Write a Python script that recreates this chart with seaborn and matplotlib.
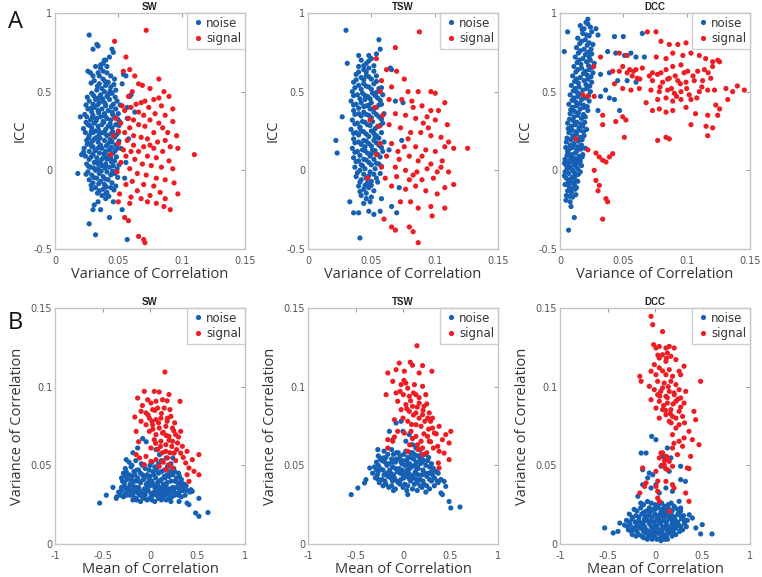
import matplotlib
matplotlib.use("Agg")
import matplotlib.pyplot as plt
import seaborn as sns
import pandas as pd

# ---------------- data ----------------
titles = ["SW", "TSW", "DCC"]
groups = ["noise", "signal"]

a_sw_noise = [
    (0.027,0.86),(0.033,0.80),(0.034,0.79),(0.030,0.77),(0.045,0.77),(0.046,0.75),(0.043,0.72),(0.040,0.70),
    (0.038,0.68),(0.036,0.67),(0.032,0.66),(0.028,0.62),(0.026,0.63),(0.030,0.60),(0.034,0.62),(0.041,0.66),
    (0.044,0.60),(0.047,0.58),(0.054,0.61),(0.056,0.60),(0.053,0.55),(0.060,0.48),(0.059,0.47),(0.063,0.37),
    (0.057,0.33),(0.020,0.34),(0.021,0.10),(0.018,-0.02),(0.027,-0.34),(0.032,-0.41),(0.036,-0.25),(0.030,-0.25),
    (0.031,-0.22),(0.034,-0.20),(0.043,-0.30),(0.053,-0.25),(0.057,-0.44),(0.046,-0.20),(0.040,-0.15),(0.055,-0.05),
    (0.056,0.05),(0.052,0.14),(0.058,0.20),(0.057,0.40),
    (0.031,0.57),(0.035,0.55),(0.038,0.58),(0.040,0.54),(0.042,0.56),(0.037,0.52),(0.044,0.53),
    (0.029,0.49),(0.033,0.51),(0.036,0.48),(0.039,0.50),(0.041,0.47),(0.045,0.49),(0.048,0.51),(0.034,0.46),
    (0.027,0.44),(0.030,0.42),(0.032,0.45),(0.035,0.43),(0.038,0.44),(0.040,0.41),(0.043,0.45),(0.046,0.42),(0.049,0.44),
    (0.026,0.39),(0.029,0.37),(0.031,0.40),(0.034,0.38),(0.037,0.39),(0.039,0.36),(0.042,0.38),(0.045,0.37),(0.048,0.39),(0.050,0.36),
    (0.025,0.34),(0.028,0.32),(0.030,0.35),(0.033,0.33),(0.036,0.34),(0.038,0.31),(0.041,0.33),(0.044,0.32),(0.047,0.34),(0.051,0.31),
    (0.026,0.29),(0.029,0.27),(0.031,0.30),(0.034,0.28),(0.037,0.29),(0.040,0.26),(0.042,0.28),(0.045,0.27),(0.048,0.29),(0.032,0.25),
    (0.024,0.24),(0.027,0.22),(0.030,0.24),(0.033,0.21),(0.035,0.23),(0.038,0.24),(0.041,0.22),(0.044,0.23),(0.047,0.21),(0.050,0.24),
    (0.025,0.19),(0.028,0.17),(0.031,0.20),(0.034,0.18),(0.036,0.16),(0.039,0.19),(0.042,0.17),(0.045,0.18),(0.048,0.16),(0.030,0.15),
    (0.023,0.14),(0.027,0.12),(0.029,0.15),(0.032,0.13),(0.035,0.11),(0.037,0.14),(0.040,0.12),(0.043,0.13),(0.046,0.11),(0.049,0.14),
    (0.024,0.09),(0.027,0.07),(0.030,0.10),(0.033,0.08),(0.036,0.06),(0.039,0.09),(0.041,0.07),(0.044,0.08),(0.047,0.06),(0.034,0.04),
    (0.025,0.04),(0.028,0.02),(0.031,0.05),(0.034,0.01),(0.037,0.03),(0.040,0.04),(0.043,0.02),(0.046,0.03),(0.049,0.01),
    (0.026,-0.01),(0.029,-0.03),(0.032,0.00),(0.035,-0.02),(0.038,-0.04),(0.041,-0.01),(0.044,-0.03),(0.047,-0.02),
    (0.027,-0.06),(0.030,-0.08),(0.033,-0.05),(0.036,-0.07),(0.039,-0.09),(0.042,-0.06),(0.045,-0.08),(0.048,-0.10),
    (0.029,-0.12),(0.032,-0.11),(0.035,-0.13),(0.038,-0.12),(0.041,-0.14),(0.044,-0.11),(0.037,-0.16),(0.040,-0.18),
    (0.035,0.60),(0.038,0.63),(0.041,0.62),(0.036,0.65),(0.039,0.70),
    (0.0285,0.555),(0.0335,0.535),(0.0395,0.565),(0.0435,0.505),(0.0465,0.545),
    (0.0255,0.465),(0.0305,0.475),(0.0375,0.455),(0.0425,0.485),(0.0475,0.465),
    (0.0245,0.415),(0.0285,0.395),(0.0335,0.415),(0.0395,0.425),(0.0445,0.405),(0.0515,0.415),
    (0.0235,0.355),(0.0295,0.335),(0.0345,0.365),(0.0395,0.345),(0.0455,0.355),(0.0495,0.325),
    (0.0245,0.305),(0.0275,0.285),(0.0325,0.315),(0.0385,0.305),(0.0435,0.295),(0.0505,0.285),
    (0.0225,0.265),(0.0285,0.245),(0.0345,0.255),(0.0395,0.235),(0.0455,0.245),(0.0485,0.225),
    (0.0265,0.205),(0.0295,0.185),(0.0355,0.205),(0.0405,0.155),(0.0435,0.195),(0.0505,0.185),
    (0.0255,0.165),(0.0315,0.125),(0.0345,0.145),(0.0385,0.105),(0.0445,0.145),(0.0475,0.125),
    (0.0225,0.115),(0.0285,0.085),(0.0325,0.055),(0.0375,0.075),(0.0425,0.095),(0.0485,0.085),
    (0.0265,0.025),(0.0305,0.015),(0.0355,0.045),(0.0395,0.015),(0.0445,0.055),(0.0505,0.035),
    (0.0245,-0.025),(0.0305,-0.045),(0.0365,-0.005),(0.0395,-0.055),(0.0455,-0.005),(0.0495,-0.045),
    (0.0285,-0.095),(0.0345,-0.085),(0.0405,-0.105),(0.0465,-0.125),(0.0335,-0.145),(0.0425,-0.165),
]
a_sw_signal = [
    (0.072,0.89),(0.047,0.82),(0.056,0.72),(0.059,0.64),(0.054,0.63),(0.063,0.60),(0.082,0.58),(0.066,0.55),
    (0.069,0.54),(0.075,0.52),(0.086,0.50),(0.061,0.50),(0.058,0.47),(0.082,0.46),(0.090,0.47),(0.078,0.45),
    (0.071,0.44),(0.068,0.43),(0.064,0.42),(0.053,0.41),(0.060,0.40),(0.074,0.40),(0.084,0.41),(0.093,0.39),
    (0.055,0.38),(0.066,0.37),(0.070,0.35),(0.079,0.36),(0.087,0.35),(0.048,0.33),(0.058,0.33),(0.062,0.32),
    (0.075,0.32),(0.082,0.30),(0.093,0.31),(0.052,0.30),(0.066,0.29),(0.071,0.28),(0.059,0.27),(0.085,0.27),
    (0.050,0.25),(0.055,0.24),(0.062,0.22),(0.078,0.24),(0.089,0.24),(0.096,0.22),(0.046,0.22),(0.068,0.21),
    (0.073,0.20),(0.057,0.19),(0.081,0.18),(0.087,0.19),(0.050,0.17),(0.062,0.16),(0.075,0.16),(0.070,0.15),
    (0.078,0.14),(0.091,0.15),(0.097,0.14),(0.054,0.13),(0.060,0.12),(0.066,0.12),(0.085,0.12),(0.044,0.10),
    (0.110,0.10),(0.056,0.09),(0.073,0.09),(0.080,0.08),(0.063,0.07),(0.090,0.06),(0.052,0.05),(0.069,0.04),
    (0.076,0.03),(0.084,0.02),(0.059,0.01),(0.093,0.01),(0.049,-0.01),(0.065,-0.02),(0.072,-0.03),(0.080,-0.05),
    (0.087,-0.06),(0.061,-0.07),(0.056,-0.09),(0.070,-0.09),(0.078,-0.10),(0.094,-0.08),(0.065,-0.13),(0.051,-0.15),
    (0.075,-0.16),(0.083,-0.14),(0.097,-0.15),(0.060,-0.17),(0.068,-0.18),(0.087,-0.18),(0.050,-0.20),(0.073,-0.20),
    (0.080,-0.21),(0.059,-0.21),(0.086,-0.23),(0.091,-0.25),(0.055,-0.30),(0.058,-0.32),(0.066,-0.42),(0.070,-0.44),
    (0.071,-0.46),
]

a_tsw_noise = [
    (0.030,0.89),(0.056,0.83),(0.057,0.77),(0.054,0.74),(0.031,0.68),(0.040,0.73),(0.048,0.73),(0.065,0.65),
    (0.066,0.64),(0.022,0.19),(0.023,0.11),(0.027,0.34),(0.041,-0.43),(0.033,-0.20),(0.036,-0.27),(0.040,-0.27),
    (0.048,-0.26),(0.052,-0.28),(0.057,-0.26),(0.066,-0.23),(0.070,-0.27),(0.069,0.44),(0.075,0.43),(0.074,0.19),
    (0.064,0.13),(0.072,-0.11),(0.058,-0.18),
    (0.042,0.70),(0.046,0.68),(0.050,0.71),(0.040,0.66),(0.044,0.64),(0.048,0.65),(0.052,0.63),(0.038,0.61),
    (0.042,0.59),(0.046,0.60),(0.050,0.58),(0.054,0.60),(0.036,0.56),(0.040,0.54),(0.044,0.55),(0.048,0.53),
    (0.052,0.55),(0.056,0.52),(0.035,0.50),(0.039,0.48),(0.043,0.49),(0.047,0.47),(0.051,0.49),(0.055,0.46),
    (0.059,0.48),(0.034,0.44),(0.038,0.42),(0.042,0.43),(0.046,0.41),(0.050,0.43),(0.054,0.40),(0.058,0.42),
    (0.036,0.38),(0.040,0.36),(0.044,0.37),(0.048,0.35),(0.052,0.37),(0.056,0.34),(0.060,0.36),(0.035,0.32),
    (0.039,0.30),(0.043,0.31),(0.047,0.29),(0.051,0.31),(0.055,0.28),(0.059,0.30),(0.034,0.26),(0.038,0.24),
    (0.042,0.25),(0.046,0.23),(0.050,0.25),(0.054,0.22),(0.058,0.24),(0.036,0.20),(0.040,0.18),(0.044,0.19),
    (0.048,0.17),(0.052,0.19),(0.056,0.16),(0.060,0.18),(0.035,0.14),(0.039,0.12),(0.043,0.13),(0.047,0.11),
    (0.051,0.13),(0.055,0.10),(0.059,0.12),(0.036,0.08),(0.040,0.06),(0.044,0.07),(0.048,0.05),(0.052,0.07),
    (0.056,0.04),(0.037,0.02),(0.041,0.00),(0.045,0.01),(0.049,-0.01),(0.053,0.01),(0.057,-0.02),(0.038,-0.04),
    (0.042,-0.06),(0.046,-0.05),(0.050,-0.07),(0.054,-0.05),(0.040,-0.10),(0.044,-0.12),(0.048,-0.11),(0.052,-0.13),
    (0.042,-0.16),(0.046,-0.18),(0.050,-0.17),(0.044,-0.21),(0.049,-0.20),
    (0.045,0.45),(0.049,0.39),(0.041,0.27),(0.053,0.21),(0.045,0.15),(0.049,0.09),(0.043,0.03),(0.047,-0.08),
    (0.044,0.665),(0.048,0.695),(0.040,0.625),(0.046,0.625),(0.052,0.665),
    (0.038,0.575),(0.044,0.575),(0.048,0.595),(0.054,0.565),
    (0.037,0.525),(0.042,0.515),(0.046,0.535),(0.050,0.515),(0.054,0.495),(0.058,0.525),
    (0.036,0.475),(0.041,0.455),(0.045,0.475),(0.049,0.455),(0.053,0.475),(0.057,0.445),
    (0.036,0.415),(0.040,0.395),(0.044,0.405),(0.048,0.415),(0.052,0.395),(0.056,0.415),
    (0.037,0.355),(0.042,0.345),(0.046,0.355),(0.050,0.335),(0.054,0.355),(0.058,0.325),
    (0.037,0.295),(0.041,0.275),(0.045,0.305),(0.049,0.285),(0.053,0.265),(0.057,0.285),
    (0.036,0.235),(0.040,0.225),(0.044,0.245),(0.048,0.215),(0.052,0.235),(0.056,0.205),
    (0.037,0.175),(0.042,0.165),(0.046,0.185),(0.050,0.155),(0.054,0.175),(0.058,0.145),
    (0.037,0.115),(0.041,0.095),(0.045,0.125),(0.050,0.105),(0.053,0.125),(0.057,0.085),
    (0.038,0.055),(0.042,0.035),(0.046,0.065),(0.050,0.035),(0.054,0.045),(0.058,0.025),
    (0.039,-0.015),(0.044,-0.025),(0.048,-0.035),(0.052,-0.025),(0.055,-0.075),
    (0.041,-0.075),(0.045,-0.095),(0.050,-0.095),(0.046,-0.145),(0.041,-0.135),
]
a_tsw_signal = [
    (0.088,0.88),(0.069,0.78),(0.054,0.71),(0.062,0.64),(0.070,0.63),(0.058,0.57),(0.076,0.58),(0.066,0.53),
    (0.079,0.50),(0.087,0.50),(0.097,0.50),(0.1005,0.49),(0.108,0.43),(0.057,0.50),(0.064,0.45),(0.074,0.45),
    (0.082,0.44),(0.090,0.41),(0.097,0.38),(0.103,0.38),(0.053,0.40),(0.059,0.35),(0.069,0.36),(0.077,0.35),
    (0.085,0.33),(0.094,0.34),(0.1005,0.32),(0.110,0.29),(0.049,0.32),(0.056,0.28),(0.064,0.29),(0.073,0.27),
    (0.081,0.24),(0.089,0.24),(0.097,0.22),(0.105,0.21),(0.111,0.18),(0.115,0.14),(0.126,0.14),(0.057,0.17),
    (0.066,0.17),(0.076,0.15),(0.085,0.15),(0.093,0.13),(0.1005,0.12),(0.108,0.15),(0.054,0.10),(0.062,0.09),
    (0.072,0.07),(0.080,0.09),(0.087,0.06),(0.097,0.04),(0.106,0.06),(0.058,0.02),(0.069,0.02),(0.077,0.00),
    (0.086,-0.01),(0.094,0.01),(0.102,-0.01),(0.111,-0.01),(0.061,-0.05),(0.070,-0.04),(0.080,-0.06),(0.090,-0.06),
    (0.099,-0.05),(0.115,-0.09),(0.047,-0.05),(0.066,-0.10),(0.077,-0.12),(0.085,-0.10),(0.093,-0.13),(0.102,-0.15),
    (0.108,-0.11),(0.073,-0.20),(0.081,-0.20),(0.087,-0.24),(0.097,-0.23),(0.108,-0.24),(0.098,-0.29),(0.060,-0.31),
    (0.066,-0.36),(0.069,-0.38),(0.080,-0.36),(0.083,-0.39),(0.087,-0.46),
    (0.083,0.40),(0.091,0.30),(0.079,0.20),(0.095,0.27),(0.071,0.12),(0.090,0.09),(0.083,-0.03),(0.105,0.02),
]

a_dcc_noise = [
    (0.0284,0.90),(0.030,0.86),(0.022,0.96),(0.0205,0.94),(0.006,0.88),(0.0034,0.755),(0.0068,-0.38),(0.0113,-0.30),
    (0.0087,-0.23),(0.0047,-0.19),(0.043,0.85),(0.050,0.85),(0.065,0.87),(0.0376,0.755),(0.044,0.745),(0.051,0.73),
    (0.056,0.745),(0.060,0.72),(0.0666,0.72),(0.039,0.62),(0.032,0.61),(0.0455,0.57),(0.053,0.57),(0.060,0.56),
    (0.036,0.51),(0.039,0.46),(0.043,0.45),(0.047,0.38),(0.030,0.38),(0.032,0.47),
    (0.016,0.92),(0.019,0.90),(0.022,0.93),(0.024,0.91),(0.018,0.87),(0.021,0.86),(0.025,0.88),(0.014,0.84),
    (0.017,0.82),(0.020,0.83),(0.023,0.81),(0.026,0.80),(0.013,0.78),(0.016,0.76),(0.019,0.77),(0.022,0.75),
    (0.025,0.74),(0.012,0.72),(0.015,0.70),(0.018,0.71),(0.021,0.69),(0.024,0.70),(0.027,0.68),(0.011,0.66),
    (0.014,0.64),(0.017,0.65),(0.020,0.63),(0.023,0.64),(0.026,0.62),(0.010,0.60),(0.013,0.58),(0.016,0.59),
    (0.019,0.57),(0.022,0.58),(0.025,0.56),(0.009,0.54),(0.012,0.52),(0.015,0.53),(0.018,0.51),(0.021,0.52),
    (0.024,0.50),(0.008,0.48),(0.011,0.46),(0.014,0.47),(0.017,0.45),(0.020,0.46),(0.023,0.44),(0.007,0.42),
    (0.010,0.40),(0.013,0.41),(0.016,0.39),(0.019,0.40),(0.022,0.38),(0.008,0.36),(0.011,0.34),(0.014,0.35),
    (0.017,0.33),(0.020,0.34),(0.006,0.30),(0.009,0.28),(0.012,0.29),(0.015,0.27),(0.018,0.28),(0.021,0.26),
    (0.007,0.24),(0.010,0.22),(0.013,0.23),(0.016,0.21),(0.019,0.22),(0.005,0.18),(0.008,0.16),(0.011,0.17),
    (0.014,0.15),(0.017,0.16),(0.020,0.14),(0.006,0.12),(0.009,0.10),(0.012,0.11),(0.015,0.09),(0.018,0.10),
    (0.004,0.07),(0.007,0.06),(0.010,0.08),(0.013,0.05),(0.016,0.06),(0.005,0.03),(0.008,0.02),(0.011,0.04),
    (0.014,0.01),(0.017,0.03),(0.004,-0.01),(0.007,-0.02),(0.010,0.00),(0.013,-0.03),(0.016,-0.01),(0.005,-0.05),
    (0.008,-0.06),(0.011,-0.04),(0.014,-0.07),(0.004,-0.09),(0.007,-0.10),(0.010,-0.08),(0.013,-0.11),(0.006,-0.13),
    (0.009,-0.14),(0.012,-0.12),(0.005,-0.16),(0.010,-0.17),(0.008,-0.20),
    (0.0175,0.895),(0.023,0.855),(0.0155,0.805),(0.0215,0.795),(0.0245,0.77),(0.0145,0.745),(0.020,0.735),(0.023,0.72),
    (0.0135,0.685),(0.0165,0.675),(0.0225,0.665),(0.0255,0.655),(0.0125,0.625),(0.0185,0.615),(0.0215,0.605),(0.0245,0.595),
    (0.0115,0.565),(0.0145,0.555),(0.0205,0.545),(0.0235,0.535),(0.0105,0.505),(0.0135,0.495),(0.0165,0.485),(0.0225,0.475),
    (0.0095,0.445),(0.0125,0.435),(0.0155,0.425),(0.0185,0.415),(0.0215,0.405),(0.0085,0.385),(0.0115,0.375),(0.0145,0.365),
    (0.0185,0.355),(0.0075,0.325),(0.0105,0.315),(0.0135,0.305),(0.0165,0.295),(0.0195,0.305),(0.0065,0.265),(0.0095,0.255),
    (0.0125,0.245),(0.0155,0.255),(0.0185,0.245),(0.0055,0.205),(0.0085,0.195),(0.0115,0.205),(0.0145,0.185),(0.0175,0.195),
    (0.0045,0.145),(0.0075,0.135),(0.0105,0.145),(0.0135,0.125),(0.0165,0.135),(0.0055,0.095),(0.0085,0.085),(0.0115,0.075),
    (0.0145,0.075),(0.0175,0.085),(0.0035,0.045),(0.0065,0.045),(0.0095,0.055),(0.0125,0.025),(0.0155,0.045),(0.0055,0.005),
    (0.0085,0.015),(0.0115,-0.015),(0.0145,-0.025),(0.0035,-0.035),(0.0065,-0.075),(0.0095,-0.045),(0.0125,-0.065),(0.0085,-0.115),
    (0.0115,-0.095),(0.0075,-0.165),(0.0125,-0.155),
]
a_dcc_signal = [
    (0.0758,0.88),(0.069,0.88),(0.0797,0.82),(0.0863,0.80),(0.093,0.80),(0.0995,0.81),(0.1034,0.745),(0.110,0.73),
    (0.115,0.71),(0.1205,0.69),(0.1245,0.70),(0.089,0.745),(0.097,0.73),(0.076,0.72),(0.0837,0.71),(0.0468,0.745),
    (0.053,0.73),(0.0495,0.66),(0.055,0.64),(0.060,0.64),(0.065,0.65),(0.0416,0.63),(0.0468,0.63),(0.053,0.62),
    (0.061,0.585),(0.0705,0.60),(0.077,0.61),(0.0797,0.62),(0.0837,0.64),(0.089,0.66),(0.0955,0.67),(0.1008,0.63),
    (0.1087,0.63),(0.114,0.64),(0.1205,0.66),(0.126,0.69),(0.073,0.57),(0.081,0.56),(0.0863,0.585),(0.093,0.57),
    (0.0995,0.56),(0.106,0.57),(0.1126,0.57),(0.119,0.585),(0.043,0.55),(0.0495,0.52),(0.056,0.51),(0.0626,0.52),
    (0.0718,0.51),(0.0784,0.50),(0.085,0.51),(0.0903,0.49),(0.0955,0.50),(0.102,0.48),(0.110,0.50),(0.1166,0.51),
    (0.122,0.51),(0.131,0.52),(0.140,0.536),(0.1455,0.51),(0.1363,0.50),(0.1324,0.45),(0.0771,0.45),(0.0837,0.46),
    (0.089,0.44),(0.0955,0.45),(0.1034,0.45),(0.123,0.415),(0.126,0.39),(0.068,0.43),(0.073,0.38),(0.0784,0.39),
    (0.0837,0.37),(0.089,0.38),(0.0995,0.40),(0.107,0.36),(0.1166,0.35),(0.1245,0.35),(0.0495,0.34),(0.052,0.32),
    (0.044,0.31),(0.0337,0.35),(0.0337,0.29),(0.1034,0.29),(0.1153,0.28),(0.1205,0.27),(0.1166,0.22),(0.0837,0.21),
    (0.0863,0.20),(0.0771,0.19),(0.0508,0.21),(0.0284,0.11),(0.031,0.085),(0.039,0.085),(0.0416,0.106),(0.0363,0.053),
    (0.0337,0.064),(0.022,0.13),(0.027,0.0),(0.0284,-0.064),(0.031,-0.096),(0.030,-0.13),(0.0363,-0.18),(0.0376,-0.20),
    (0.0337,-0.31),(0.018,0.48),(0.022,0.47),(0.027,0.47),(0.0266,0.66),(0.0126,0.20),(0.032,0.72),
    (0.085,0.58),(0.091,0.60),(0.095,0.55),(0.105,0.60),(0.112,0.53),(0.079,0.53),(0.088,0.52),(0.098,0.62),
    (0.117,0.62),(0.073,0.62),(0.057,0.60),(0.058,0.63),(0.063,0.58),(0.100,0.52),(0.092,0.47),(0.108,0.46),
]

b_sw_noise = [
    (-0.53,0.026),(-0.46,0.031),(-0.39,0.036),(-0.355,0.029),(0.515,0.029),(0.48,0.0197),(0.515,0.0176),(0.61,0.020),
    (0.43,0.0345),(0.445,0.0335),(0.39,0.026),(0.41,0.025),(0.306,0.027),(0.323,0.0377),
    (-0.077,0.067),(-0.04,0.065),(-0.13,0.061),(-0.25,0.0536),(-0.18,0.058),(0.063,0.060),(0.10,0.0568),(0.17,0.0547),
    (0.24,0.0547),(0.185,0.049),
    (-0.22,0.052),(-0.15,0.053),(-0.09,0.051),(0.02,0.052),(0.12,0.053),(0.22,0.051),
    (-0.26,0.048),(-0.20,0.049),(-0.12,0.047),(-0.05,0.048),(0.05,0.049),(0.15,0.047),(0.25,0.048),
    (-0.28,0.045),(-0.22,0.044),(-0.17,0.046),(-0.10,0.045),(-0.03,0.044),(0.03,0.046),(0.09,0.045),(0.18,0.044),
    (0.26,0.046),(0.30,0.045),
    (-0.30,0.042),(-0.24,0.041),(-0.19,0.043),(-0.13,0.042),(-0.07,0.041),(0.00,0.043),(0.06,0.042),(0.12,0.041),
    (0.20,0.043),(0.28,0.042),(0.33,0.041),
    (-0.27,0.039),(-0.21,0.038),(-0.15,0.040),(-0.10,0.039),(-0.04,0.038),(0.02,0.040),(0.08,0.039),(0.14,0.038),
    (0.22,0.040),(0.29,0.039),(0.36,0.038),
    (-0.30,0.036),(-0.25,0.035),(-0.18,0.037),(-0.12,0.036),(-0.06,0.035),(0.00,0.037),(0.05,0.036),(0.11,0.035),
    (0.17,0.037),(0.24,0.036),(0.31,0.035),(0.38,0.037),
    (-0.33,0.033),(-0.26,0.032),(-0.20,0.034),(-0.14,0.033),(-0.08,0.032),(-0.02,0.034),(0.04,0.033),(0.10,0.032),
    (0.16,0.034),(0.22,0.033),(0.28,0.032),(0.35,0.034),(0.42,0.033),
    (-0.35,0.030),(-0.28,0.030),(-0.21,0.031),(-0.15,0.029),(-0.08,0.030),(0.00,0.029),(0.07,0.031),(0.13,0.030),
    (0.20,0.029),(0.26,0.031),(0.33,0.030),
    (-0.18,0.028),(-0.10,0.027),(-0.03,0.028),(0.05,0.027),(0.12,0.028),(0.22,0.027),
    (-0.17,0.040),(-0.01,0.041),(0.07,0.047),(0.16,0.042),(-0.08,0.044),(0.10,0.036),(-0.23,0.034),(0.19,0.032),
    (0.03,0.038),(-0.11,0.031),
    (-0.19,0.050),(-0.08,0.050),(0.00,0.050),(0.09,0.051),(0.19,0.050),
    (-0.25,0.046),(-0.14,0.047),(-0.01,0.047),(0.12,0.046),(0.21,0.046),
    (-0.26,0.043),(-0.16,0.044),(-0.05,0.043),(0.04,0.044),(0.15,0.043),(0.24,0.044),(0.31,0.043),
    (-0.29,0.040),(-0.20,0.041),(-0.12,0.040),(-0.02,0.039),(0.10,0.040),(0.18,0.039),(0.26,0.040),(0.33,0.039),
    (-0.27,0.037),(-0.22,0.036),(-0.15,0.036),(-0.03,0.036),(0.08,0.037),(0.14,0.036),(0.21,0.035),(0.28,0.036),(0.35,0.036),
    (-0.30,0.034),(-0.17,0.034),(-0.11,0.034),(-0.05,0.033),(0.01,0.032),(0.07,0.034),(0.13,0.033),(0.19,0.034),
    (0.25,0.034),(0.31,0.033),(0.39,0.034),
    (-0.31,0.031),(-0.25,0.031),(-0.18,0.031),(-0.12,0.032),(-0.05,0.031),(0.03,0.031),(0.10,0.030),(0.16,0.031),
    (0.23,0.030),(0.30,0.031),(0.37,0.031),
    (-0.14,0.028),(-0.06,0.029),(0.02,0.028),(0.09,0.029),(0.17,0.028),
]
b_sw_signal = [
    (0.157,0.1093),(-0.06,0.097),(0.045,0.097),(0.097,0.0966),(0.20,0.095),(0.317,0.0907),(-0.13,0.0928),(-0.024,0.0917),
    (0.01,0.0896),(0.063,0.0907),(0.132,0.0917),(-0.16,0.0807),(-0.094,0.0843),(-0.042,0.0833),(0.028,0.0854),(0.080,0.0864),
    (0.15,0.0864),(0.21,0.0854),(-0.007,0.080),(0.063,0.079),(0.115,0.080),(0.184,0.080),(0.22,0.0811),(-0.094,0.078),
    (-0.042,0.0758),(0.028,0.0758),(0.097,0.0737),(0.167,0.0748),(0.237,0.0737),(-0.146,0.0716),(-0.007,0.0716),(0.063,0.0695),
    (0.132,0.0705),(0.20,0.0684),(0.27,0.0695),(0.323,0.0716),(0.045,0.0663),(0.115,0.0653),(0.167,0.0631),(0.237,0.0653),
    (0.29,0.0642),(0.34,0.0621),(0.01,0.061),(0.08,0.060),(0.167,0.0589),(0.254,0.0578),(0.323,0.0578),(0.39,0.0589),
    (0.515,0.0568),(0.445,0.0536),(0.376,0.0515),(0.41,0.0483),(0.463,0.0462),(0.515,0.044),(0.39,0.044),(0.41,0.0398),
    (-0.042,0.0557),(-0.11,0.0547),(-0.146,0.0568),(0.063,0.0536),(0.132,0.0525),(0.20,0.0504),(0.167,0.0472),(0.237,0.0483),
    (-0.06,0.0504),(0.097,0.0494),(0.184,0.0547),(0.01,0.0525),
    (0.05,0.085),(0.12,0.083),(0.18,0.078),(-0.02,0.082),(0.09,0.077),(0.25,0.072),(0.14,0.071),(0.03,0.073),
    (0.20,0.066),(0.28,0.060),(0.11,0.062),(0.23,0.062),(0.30,0.068),(0.06,0.064),(0.17,0.069),(0.35,0.055),
    (0.27,0.053),(0.21,0.058),(0.13,0.058),(-0.08,0.088),(0.18,0.091),(0.26,0.077),(-0.12,0.065),(0.02,0.078),(0.14,0.052),
]

b_tsw_noise = [
    (-0.545,0.0314),(-0.475,0.0356),(-0.39,0.0409),(-0.405,0.0388),(-0.35,0.0483),(0.485,0.027),(0.503,0.0229),(0.60,0.0235),
    (0.40,0.0324),(0.415,0.0314),(0.45,0.0366),(0.433,0.0398),(0.05,0.0314),
    (-0.073,0.0769),(-0.02,0.078),(-0.143,0.0716),(0.0,0.0716),(0.066,0.0695),(-0.108,0.0663),(0.03,0.0653),(0.10,0.0631),
    (0.136,0.061),(0.19,0.0568),(-0.265,0.060),(-0.21,0.0547),
    (-0.20,0.059),(-0.12,0.060),(-0.05,0.058),(0.03,0.059),(0.10,0.058),(0.18,0.060),
    (-0.26,0.056),(-0.18,0.055),(-0.10,0.057),(-0.03,0.056),(0.05,0.055),(0.12,0.057),(0.20,0.056),(0.27,0.055),
    (-0.28,0.052),(-0.22,0.053),(-0.15,0.051),(-0.08,0.052),(0.00,0.053),(0.07,0.051),(0.14,0.052),(0.22,0.053),(0.30,0.051),
    (-0.30,0.049),(-0.24,0.048),(-0.17,0.050),(-0.11,0.049),(-0.04,0.048),(0.02,0.050),(0.09,0.049),(0.16,0.048),
    (0.24,0.050),(0.32,0.048),
    (-0.32,0.045),(-0.26,0.046),(-0.20,0.044),(-0.13,0.045),(-0.06,0.046),(0.00,0.044),(0.06,0.045),(0.13,0.046),
    (0.20,0.044),(0.27,0.045),(0.35,0.046),
    (-0.29,0.042),(-0.22,0.041),(-0.16,0.043),(-0.09,0.042),(-0.02,0.041),(0.04,0.043),(0.11,0.042),(0.18,0.041),
    (0.25,0.043),(0.33,0.042),(0.40,0.041),
    (-0.25,0.039),(-0.18,0.038),(-0.11,0.040),(-0.05,0.039),(0.02,0.038),(0.08,0.040),(0.15,0.039),(0.22,0.038),
    (0.30,0.040),(0.37,0.039),
    (-0.15,0.036),(-0.08,0.035),(0.00,0.036),(0.10,0.035),(0.20,0.036),(0.28,0.035),
    (-0.07,0.054),(0.08,0.055),(-0.14,0.047),(0.18,0.051),(0.04,0.047),(-0.01,0.051),(0.11,0.044),
    (-0.16,0.057),(-0.07,0.058),(0.01,0.057),(0.08,0.058),(0.15,0.056),(0.23,0.057),
    (-0.24,0.054),(-0.12,0.054),(-0.04,0.054),(0.04,0.053),(0.11,0.054),(0.18,0.054),(0.26,0.053),
    (-0.26,0.050),(-0.19,0.052),(-0.11,0.052),(-0.02,0.052),(0.05,0.050),(0.12,0.050),(0.20,0.052),(0.28,0.049),
    (-0.28,0.047),(-0.21,0.047),(-0.08,0.048),(-0.01,0.047),(0.07,0.048),(0.14,0.049),(0.21,0.047),(0.30,0.046),(0.37,0.045),
    (-0.27,0.044),(-0.17,0.045),(-0.10,0.044),(-0.03,0.045),(0.03,0.045),(0.09,0.043),(0.16,0.044),(0.23,0.045),(0.31,0.044),
    (-0.26,0.041),(-0.19,0.040),(-0.13,0.042),(-0.06,0.040),(0.01,0.042),(0.07,0.041),(0.14,0.041),(0.21,0.040),
    (0.28,0.041),(0.36,0.040),
    (-0.21,0.037),(-0.12,0.037),(-0.03,0.038),(0.05,0.037),(0.12,0.038),(0.18,0.037),(0.25,0.037),(0.33,0.037),
    (-0.10,0.034),(0.04,0.034),(0.15,0.034),(0.24,0.033),
]
b_tsw_signal = [
    (0.147,0.126),(-0.04,0.115),(0.077,0.1155),(0.10,0.1136),(0.206,0.1134),(0.304,0.1098),(-0.16,0.1087),(-0.073,0.1108),
    (0.014,0.1098),(0.17,0.1087),(-0.108,0.1034),(-0.02,0.1013),(0.03,0.1023),(0.12,0.1013),(0.206,0.1002),(-0.178,0.0949),
    (-0.073,0.096),(0.0035,0.0949),(0.066,0.0939),(0.136,0.0949),(0.24,0.0949),(-0.056,0.0907),(0.03,0.0886),(0.10,0.0875),
    (0.17,0.0896),(0.22,0.0875),(-0.02,0.0854),(0.066,0.0843),(0.136,0.0833),(0.206,0.0822),(0.276,0.0833),(0.29,0.078),
    (0.26,0.080),(-0.09,0.079),(0.0,0.080),(0.05,0.078),(0.136,0.0758),(0.19,0.0748),(0.31,0.0737),(0.38,0.0748),
    (0.33,0.0705),(0.503,0.0716),(0.45,0.0695),(0.415,0.0663),(0.485,0.0642),(0.365,0.0621),(0.38,0.0589),(0.433,0.0578),
    (0.485,0.0536),(0.372,0.0515),(0.38,0.0483),(-0.16,0.0663),(-0.108,0.0653),(-0.056,0.0716),(0.014,0.0705),(0.084,0.0716),
    (0.136,0.0684),(0.19,0.0653),(0.206,0.061),(0.206,0.0568),(0.153,0.0631),(-0.16,0.061),(0.05,0.0589),(0.258,0.0684),
    (0.276,0.0653),
    (0.05,0.099),(0.11,0.096),(0.17,0.093),(-0.03,0.097),(0.08,0.091),(0.15,0.087),(0.21,0.085),(0.25,0.089),
    (0.04,0.086),(0.11,0.082),(0.17,0.080),(0.23,0.078),(0.31,0.080),(0.09,0.076),(0.27,0.073),(0.35,0.070),
    (0.22,0.070),(0.10,0.067),(0.29,0.065),(0.32,0.061),(0.25,0.058),(0.07,0.063),(-0.09,0.068),(0.16,0.060),(0.01,0.104),
]

b_dcc_noise = [
    (-0.53,0.0102),(-0.44,0.007),(-0.37,0.0133),(-0.39,0.008),(0.48,0.0064),(0.60,0.0064),(0.497,0.0123),(0.43,0.0102),
    (0.393,0.0165),(0.36,0.0186),(0.27,0.0229),(0.063,0.0021),(-0.035,0.0684),(0.01,0.0663),(-0.146,0.0578),(-0.094,0.0578),
    (0.13,0.061),(0.167,0.0547),(0.08,0.0557),(0.27,0.0494),(0.32,0.0398),(0.27,0.0409),(-0.06,0.0451),(-0.024,0.044),
    (-0.077,0.042),(-0.13,0.0377),(0.01,0.0377),(-0.18,0.0303),(0.115,0.0356),(0.184,0.0335),(0.254,0.0271),(0.045,0.0324),
    (0.15,0.0462),(0.063,0.0494),(-0.13,0.0472),(-0.042,0.0356),
    (-0.15,0.026),(-0.08,0.027),(0.00,0.025),(0.07,0.026),(0.14,0.025),(0.20,0.024),
    (-0.22,0.022),(-0.15,0.023),(-0.09,0.021),(-0.03,0.022),(0.03,0.023),(0.09,0.021),(0.15,0.022),(0.21,0.023),(0.27,0.021),
    (-0.27,0.019),(-0.20,0.018),(-0.14,0.019),(-0.07,0.018),(0.00,0.019),(0.06,0.018),(0.12,0.019),(0.18,0.018),
    (0.24,0.019),(0.30,0.018),
    (-0.30,0.015),(-0.24,0.016),(-0.17,0.015),(-0.11,0.016),(-0.04,0.015),(0.02,0.016),(0.09,0.015),(0.15,0.016),
    (0.21,0.015),(0.28,0.016),(0.34,0.015),
    (-0.32,0.012),(-0.26,0.012),(-0.19,0.013),(-0.13,0.012),(-0.06,0.013),(0.00,0.012),(0.06,0.013),(0.12,0.012),
    (0.18,0.013),(0.25,0.012),(0.31,0.013),
    (-0.28,0.009),(-0.22,0.009),(-0.15,0.010),(-0.09,0.009),(-0.02,0.010),(0.04,0.009),(0.10,0.010),(0.16,0.009),
    (0.22,0.010),(0.29,0.009),
    (-0.24,0.006),(-0.17,0.006),(-0.10,0.007),(-0.04,0.006),(0.03,0.007),(0.09,0.006),(0.15,0.007),(0.22,0.006),
    (-0.12,0.004),(-0.03,0.003),(0.06,0.004),(0.13,0.003),
    (-0.05,0.020),(0.04,0.014),(-0.12,0.014),(0.10,0.017),(-0.01,0.008),(0.19,0.011),(-0.20,0.011),(0.07,0.022),
    (-0.12,0.025),(-0.04,0.026),(0.04,0.025),(0.10,0.024),(0.17,0.026),
    (-0.19,0.021),(-0.12,0.020),(-0.06,0.023),(0.00,0.022),(0.06,0.020),(0.12,0.022),(0.18,0.021),(0.24,0.022),
    (-0.24,0.017),(-0.17,0.017),(-0.10,0.018),(-0.03,0.017),(0.03,0.018),(0.09,0.019),(0.15,0.018),(0.21,0.017),(0.27,0.018),
    (-0.27,0.014),(-0.21,0.014),(-0.14,0.013),(-0.08,0.015),(-0.01,0.014),(0.05,0.015),(0.12,0.014),(0.18,0.015),
    (0.24,0.014),(0.31,0.015),
    (-0.29,0.011),(-0.23,0.010),(-0.17,0.011),(-0.11,0.011),(-0.04,0.011),(0.02,0.011),(0.08,0.011),(0.14,0.011),
    (0.21,0.012),(0.27,0.011),(0.33,0.011),
    (-0.25,0.008),(-0.19,0.008),(-0.12,0.008),(-0.06,0.008),(0.01,0.008),(0.07,0.008),(0.13,0.008),(0.19,0.008),(0.26,0.008),
    (-0.20,0.005),(-0.14,0.005),(-0.07,0.005),(0.00,0.005),(0.06,0.006),(0.12,0.005),(0.18,0.005),
    (-0.08,0.003),(0.02,0.003),(0.10,0.003),
]
b_dcc_signal = [
    (-0.042,0.1447),(-0.024,0.1394),(0.08,0.135),(-0.014,0.1267),(0.01,0.1246),(0.045,0.1256),(0.115,0.1246),(0.15,0.1256),
    (0.202,0.1246),(0.08,0.1203),(0.13,0.1214),(0.045,0.1182),(0.115,0.1161),(0.167,0.1193),(0.22,0.1172),(0.306,0.113),
    (-0.007,0.114),(0.045,0.112),(0.15,0.1108),(0.254,0.1098),(-0.042,0.1098),(0.01,0.1076),(-0.16,0.1066),(-0.146,0.1034),
    (0.115,0.1076),(0.184,0.1066),(0.27,0.1076),(0.48,0.1034),(0.028,0.1034),(0.097,0.1023),(0.167,0.1034),(0.22,0.1013),
    (-0.06,0.1002),(-0.007,0.0981),(0.08,0.0992),(0.15,0.097),(0.254,0.0981),(0.323,0.097),(0.028,0.0949),(0.115,0.0939),
    (0.202,0.0949),(0.27,0.0928),(-0.042,0.0917),(0.045,0.0907),(0.13,0.0896),(0.22,0.0907),(0.306,0.0896),(0.01,0.0864),
    (0.08,0.0854),(0.167,0.0854),(0.254,0.0843),(0.41,0.0843),(0.115,0.0822),(0.184,0.0811),(0.29,0.0811),(0.428,0.079),
    (0.045,0.080),(0.15,0.078),(0.254,0.0758),(0.22,0.0737),(0.358,0.0716),(0.306,0.0674),(0.184,0.0695),(0.393,0.0663),
    (0.254,0.0653),(0.463,0.0631),(0.184,0.061),(0.29,0.0621),(0.236,0.0568),(0.375,0.0557),(0.063,0.0578),(0.115,0.0557),
    (0.045,0.0547),(0.15,0.0525),(0.097,0.0504),(0.184,0.0494),(0.13,0.0472),(0.34,0.0483),(0.358,0.0479),(-0.13,0.0483),
    (0.01,0.0462),(-0.094,0.0388),(-0.11,0.0366),(-0.16,0.0324),(0.01,0.0366),(0.028,0.0335),(0.028,0.0292),(0.045,0.0271),
    (0.184,0.0377),(0.20,0.0356),(0.323,0.0324),(0.358,0.0271),(0.15,0.0208),(0.115,0.0398),
    (0.06,0.097),(0.13,0.093),(0.19,0.089),(0.09,0.088),(0.16,0.083),(0.22,0.080),(0.11,0.085),(0.20,0.096),
    (0.27,0.087),(0.05,0.094),(0.14,0.100),(0.24,0.092),(0.17,0.077),(0.08,0.110),(0.12,0.118),(0.03,0.120),
    (0.10,0.053),(0.13,0.055),(0.07,0.050),(0.11,0.048),(0.03,0.040),(0.08,0.058),(0.20,0.064),(0.31,0.077),
]

row_a_series = [(a_sw_noise, a_sw_signal), (a_tsw_noise, a_tsw_signal), (a_dcc_noise, a_dcc_signal)]
row_b_series = [(b_sw_noise, b_sw_signal), (b_tsw_noise, b_tsw_signal), (b_dcc_noise, b_dcc_signal)]

a_xticks = [0, 0.05, 0.1, 0.15]
a_xticklabels = ["0", "0.05", "0.1", "0.15"]
a_yticks = [-0.5, 0, 0.5, 1]
a_yticklabels = ["-0.5", "0", "0.5", "1"]
b_xticks = [-1, -0.5, 0, 0.5, 1]
b_xticklabels = ["-1", "-0.5", "0", "0.5", "1"]
b_yticks = [0, 0.05, 0.1, 0.15]
b_yticklabels = ["0", "0.05", "0.1", "0.15"]

# ---------------- styling ----------------
sns.set_style("white")
plt.rcParams['font.family'] = ['DejaVu Sans']
BLUE = "#1660b4"
RED = "#ee1d24"
palette = {"noise": BLUE, "signal": RED}
FRAME = "#c4c4c4"
TICKC = "#555555"

fig = plt.figure(figsize=(7.62, 5.77), dpi=100)
lefts = [55/762, 308/762, 560/762]
w = 190/762
h = 236/577
bottoms = [1 - 249/577, 1 - 544/577]


def make_df(noise, signal):
    rows = [(x, y, "noise") for x, y in noise] + [(x, y, "signal") for x, y in signal]
    return pd.DataFrame(rows, columns=["x", "y", "group"])


def style_axes(ax, title, xlabel, ylabel, xt, xtl, yt, ytl, xlim, ylim):
    ax.set_xlim(*xlim)
    ax.set_ylim(*ylim)
    ax.set_xticks(xt)
    ax.set_xticklabels(xtl)
    ax.set_yticks(yt)
    ax.set_yticklabels(ytl)
    ax.tick_params(direction="in", length=3, width=0.6, color="#888888", labelsize=7,
                   labelcolor=TICKC, top=True, right=True)
    ax.tick_params(axis="x", pad=5)
    ax.tick_params(axis="y", pad=2)
    for sp in ax.spines.values():
        sp.set_visible(True)
        sp.set_color(FRAME)
        sp.set_linewidth(1.0)
    ax.set_title(title, fontsize=7, fontweight="bold", pad=2, color="#222222",
                 family=["Liberation Sans", "DejaVu Sans"])
    ax.set_xlabel(xlabel, fontsize=10.5, family=["Open Sans", "DejaVu Sans"], color="#333333", labelpad=1)
    ax.set_ylabel(ylabel, fontsize=10.5, family=["Open Sans", "DejaVu Sans"], color="#333333", labelpad=4)
    leg = ax.legend(loc="upper right", frameon=True, fancybox=False, fontsize=8.5,
                    handletextpad=0.1, borderpad=0.3, labelspacing=0.25, borderaxespad=0.0,
                    markerscale=1.0, handlelength=1.2)
    leg.get_frame().set_edgecolor(FRAME)
    leg.get_frame().set_linewidth(1.0)
    for t in leg.get_texts():
        t.set_color("#333333")


for i in range(3):
    ax = fig.add_axes([lefts[i], bottoms[0], w, h])
    df = make_df(*row_a_series[i])
    sns.scatterplot(data=df, x="x", y="y", hue="group", hue_order=groups, palette=palette,
                    s=14, linewidth=0, ax=ax)
    style_axes(ax, titles[i], "Variance of Correlation", "ICC",
               a_xticks, a_xticklabels, a_yticks, a_yticklabels, (0, 0.15), (-0.5, 1))

for i in range(3):
    ax = fig.add_axes([lefts[i], bottoms[1], w, h])
    df = make_df(*row_b_series[i])
    sns.scatterplot(data=df, x="x", y="y", hue="group", hue_order=groups, palette=palette,
                    s=14, linewidth=0, ax=ax)
    style_axes(ax, titles[i], "Mean of Correlation", "Variance of Correlation",
               b_xticks, b_xticklabels, b_yticks, b_yticklabels, (-1, 1), (0, 0.15))

fig.text(8/762, 1 - 22/577, "A", fontsize=17, va="center", ha="left", color="#111111",
         family=["Open Sans", "DejaVu Sans"])
fig.text(8/762, 1 - 323/577, "B", fontsize=17, va="center", ha="left", color="#111111",
         family=["Open Sans", "DejaVu Sans"])

fig.savefig("out.png", dpi=100, facecolor="white")
